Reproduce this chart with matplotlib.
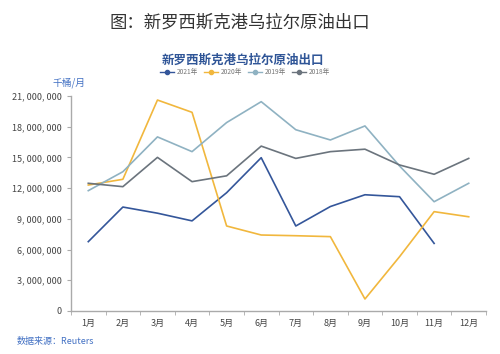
import matplotlib
matplotlib.use("Agg")
import matplotlib.pyplot as plt
from matplotlib.ticker import FuncFormatter, MultipleLocator
import numpy as np

plt.rcParams['font.family'] = ['Noto Sans CJK SC', 'DejaVu Sans']

months = ["1月", "2月", "3月", "4月", "5月", "6月", "7月", "8月", "9月", "10月", "11月", "12月"]
y2021 = [6.77e6, 10.15e6, 9.55e6, 8.8e6, 11.55e6, 14.97e6, 8.3e6, 10.2e6, 11.35e6, 11.16e6, 6.6e6, None]
y2020 = [12.3e6, 12.86e6, 20.6e6, 19.4e6, 8.3e6, 7.42e6, 7.35e6, 7.26e6, 1.17e6, 5.3e6, 9.7e6, 9.2e6]
y2019 = [11.75e6, 13.6e6, 17.0e6, 15.56e6, 18.4e6, 20.44e6, 17.7e6, 16.7e6, 18.07e6, 14.16e6, 10.67e6, 12.47e6]
y2018 = [12.47e6, 12.14e6, 15.0e6, 12.63e6, 13.2e6, 16.1e6, 14.9e6, 15.56e6, 15.8e6, 14.26e6, 13.35e6, 14.9e6]

series = [("2021年", y2021, "#34569a"),
          ("2020年", y2020, "#f1b73d"),
          ("2019年", y2019, "#8fb2c2"),
          ("2018年", y2018, "#6b747d")]

fig = plt.figure(figsize=(5, 3.54), dpi=100)
ax = fig.add_axes([0.142, 0.1215, 0.83, 0.6075])

x = np.arange(len(months))
handles = []
for name, vals, color in series:
    v = np.array([np.nan if a is None else a for a in vals], dtype=float)
    ax.plot(x, v, color=color, lw=1.2)
    h, = ax.plot([], [], color=color, lw=1, marker="o", markersize=3, label=name)
    handles.append(h)

ax.set_xlim(-0.5, 11.5)
ax.set_ylim(0, 21e6)
ax.yaxis.set_major_locator(MultipleLocator(3e6))
ax.yaxis.set_major_formatter(FuncFormatter(lambda v, p: "{:,}".format(int(v)).replace(",", ", ")))
ax.set_xticks(x)
ax.set_xticklabels(months)
ax.set_xticks(np.arange(-0.5, 12, 1), minor=True)
ax.tick_params(axis="x", which="major", length=0, pad=6, labelsize=6.5, colors="#444444")
ax.tick_params(axis="x", which="minor", length=3, color="#aaaaaa")
ax.tick_params(axis="y", length=3, color="#aaaaaa", labelsize=6.5, labelcolor="#444444")

for s in ["top", "right"]:
    ax.spines[s].set_visible(False)
for s in ["left", "bottom"]:
    ax.spines[s].set_color("#aaaaaa")
    ax.spines[s].set_linewidth(1)

fig.text(0.48, 0.935, "图：新罗西斯克港乌拉尔原油出口", ha="center", va="center",
         fontsize=12.5, color="#333333")
fig.text(0.485, 0.83, "新罗西斯克港乌拉尔原油出口", ha="center", va="center",
         fontsize=9, color="#2f5597", fontweight="bold")
fig.legend(handles=handles, loc="center", bbox_to_anchor=(0.49, 0.797), ncol=4,
           frameon=False, fontsize=4.8, handlelength=2, columnspacing=1.0,
           handletextpad=0.4, labelcolor="#777777")
fig.text(0.105, 0.765, "千桶/月", ha="left", va="center", fontsize=7, color="#4472c4")
fig.text(0.034, 0.035, "数据来源：Reuters", ha="left", va="center", fontsize=6.5, color="#4472c4")

fig.savefig("out.png", dpi=100)
